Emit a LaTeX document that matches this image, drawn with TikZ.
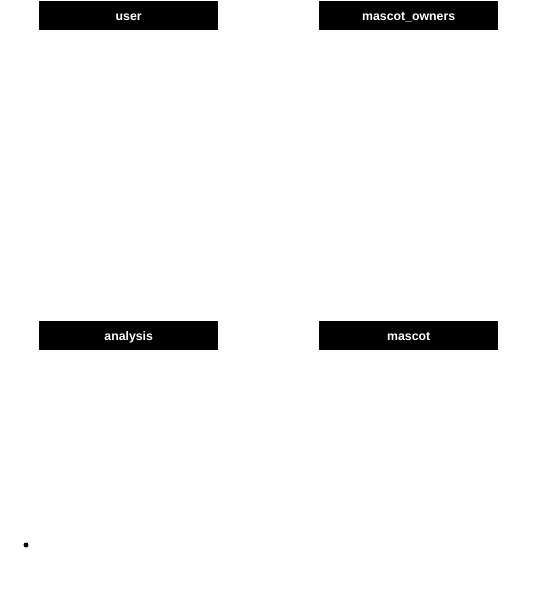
\documentclass[tikz,border=0pt]{standalone}
\usepackage{fontspec}
\setmainfont{Liberation Sans}
\usetikzlibrary{positioning}

\tikzset{
  tablehead/.style={fill=black, text=white, font=\bfseries\fontsize{12.3}{14}\selectfont,
    minimum width=179pt, minimum height=29pt, inner sep=0pt, anchor=north west,
    text height=10pt, text depth=1pt}
}

\begin{document}
\begin{tikzpicture}[x=1pt, y=-1pt]
  \useasboundingbox (0,0) rectangle (538,591);

  \node[tablehead] (user) at (39,1) {user};
  \node[tablehead] (owners) at (319,1) {mascot\_owners};
  \node[tablehead] (analysis) at (39,321) {analysis};
  \node[tablehead] (mascot) at (319,321) {mascot};

  % stray bullet
  \fill (26,545) circle (2.5pt);
\end{tikzpicture}
\end{document}
